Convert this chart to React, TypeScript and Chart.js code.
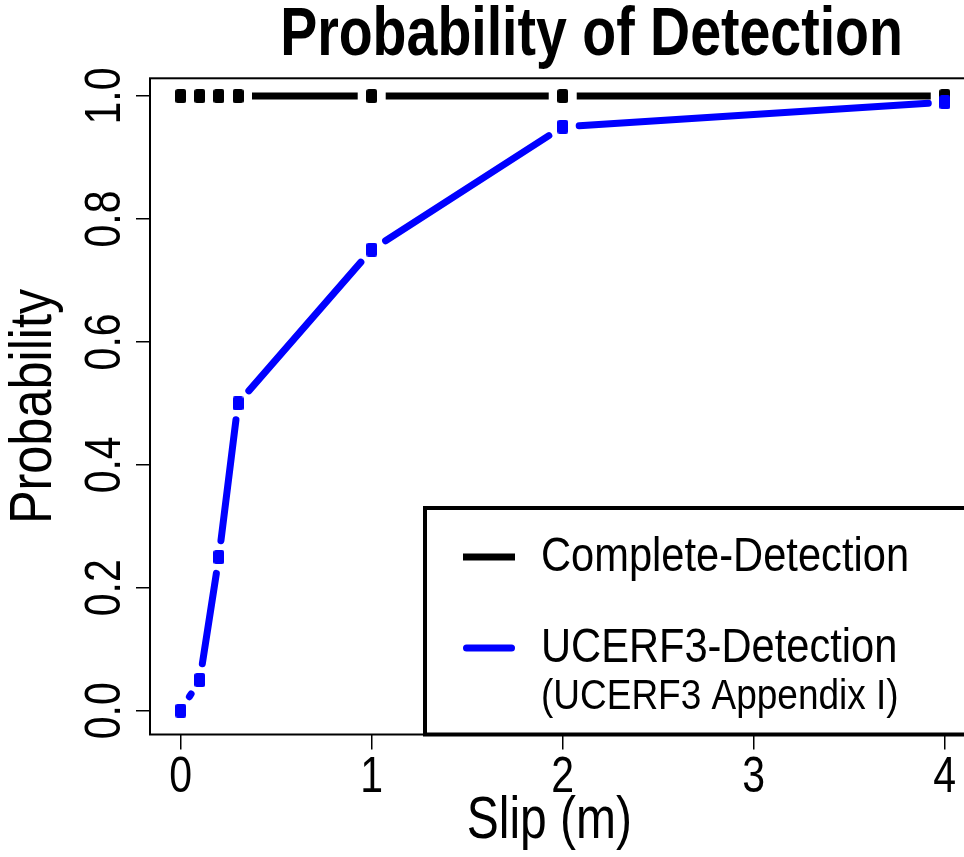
import React, { useEffect, useRef } from "react";
import { Chart, registerables } from "chart.js";

Chart.register(...registerables);

// Slip values (m) shared by both curves
const SLIP = [0, 0.1, 0.2, 0.3, 1, 2, 4];
// Probability of a rupture being detected at each slip
const COMPLETE_DETECTION = [1, 1, 1, 1, 1, 1, 1];
const UCERF3_DETECTION = [0, 0.05, 0.25, 0.5, 0.75, 0.95, 0.99];

const SERIES_NAMES = ["Complete-Detection", "UCERF3-Detection"];
const LEGEND_NOTE = "(UCERF3 Appendix I)";
const TITLE = "Probability of Detection";
const X_LABEL = "Slip (m)";
const Y_LABEL = "Probability";

const X_TICKS = [0, 1, 2, 3, 4];
const Y_TICKS = [0, 0.2, 0.4, 0.6, 0.8, 1.0];

const FONT = "'Liberation Sans', Arial, Helvetica, sans-serif";

// Line styles per series (type "b": segments stop short of the markers)
const LINE_STYLES = [
  { color: "#000000", width: 7, cap: "butt" as CanvasLineCap, gap: 14 },
  { color: "#0000ff", width: 7, cap: "round" as CanvasLineCap, gap: 16.5 },
];

function squareMarker(color: string, w = 11, h = 14, r = 2.5): HTMLCanvasElement {
  const c = document.createElement("canvas");
  c.width = w;
  c.height = h;
  const g = c.getContext("2d")!;
  g.fillStyle = color;
  g.beginPath();
  (g as any).roundRect(0, 0, w, h, r);
  g.fill();
  return c;
}

// Text in a condensed Helvetica look: glyphs narrowed along the reading direction
function drawText(
  ctx: CanvasRenderingContext2D,
  text: string,
  x: number,
  y: number,
  size: number,
  opts: { weight?: string; sx?: number; align?: CanvasTextAlign; vertical?: boolean } = {}
) {
  const { weight = "normal", sx = 0.82, align = "center", vertical = false } = opts;
  ctx.save();
  ctx.translate(x, y);
  if (vertical) ctx.rotate(-Math.PI / 2);
  ctx.scale(sx, 1);
  ctx.font = `${weight} ${size}px ${FONT}`;
  ctx.fillStyle = "#000";
  ctx.textAlign = align;
  ctx.textBaseline = "middle";
  ctx.fillText(text, 0, 0);
  ctx.restore();
}

const gappedLines = {
  id: "gappedLines",
  beforeDatasetDraw(chart: any, args: any) {
    const style = LINE_STYLES[args.index];
    const pts = args.meta.data;
    const ctx = chart.ctx as CanvasRenderingContext2D;
    ctx.save();
    ctx.strokeStyle = style.color;
    ctx.lineWidth = style.width;
    ctx.lineCap = style.cap;
    for (let i = 0; i < pts.length - 1; i++) {
      const a = pts[i];
      const b = pts[i + 1];
      const dx = b.x - a.x;
      const dy = b.y - a.y;
      const len = Math.hypot(dx, dy);
      if (len <= 2 * style.gap) continue;
      const ux = dx / len;
      const uy = dy / len;
      ctx.beginPath();
      ctx.moveTo(a.x + ux * style.gap, a.y + uy * style.gap);
      ctx.lineTo(b.x - ux * style.gap, b.y - uy * style.gap);
      ctx.stroke();
    }
    ctx.restore();
  },
};

const annotations = {
  id: "annotations",
  afterDraw(chart: any) {
    const ctx = chart.ctx as CanvasRenderingContext2D;
    const { left, top, right, bottom } = chart.chartArea;
    const xScale = chart.scales.x;
    const yScale = chart.scales.y;

    ctx.save();
    // plot frame
    ctx.strokeStyle = "#000";
    ctx.lineWidth = 2;
    ctx.strokeRect(left, top, right - left, bottom - top);

    // main title, centred over the plot region
    drawText(ctx, TITLE, (left + right) / 2, 36.7, 68, { weight: "bold", sx: 0.816 });

    // tick labels placed by the scales
    xScale.ticks.forEach((t: any) => {
      drawText(ctx, String(t.value), xScale.getPixelForValue(t.value), bottom + 43.5, 50);
    });
    yScale.ticks.forEach((t: any) => {
      drawText(ctx, Number(t.value).toFixed(1), left - 43.5, yScale.getPixelForValue(t.value), 50, {
        vertical: true,
      });
    });

    // axis labels
    const xLabelX = (left + xScale.getPixelForValue(X_TICKS[X_TICKS.length - 1])) / 2 + 2;
    drawText(ctx, X_LABEL, xLabelX, 821.5, 60, { sx: 0.8 });
    drawText(ctx, Y_LABEL, 34.5, (top + bottom) / 2, 60, { vertical: true, sx: 0.84 });

    // legend box (bottom-right corner of the plot)
    const boxLeft = 425;
    const boxTop = 508;
    ctx.fillStyle = "#fff";
    ctx.fillRect(boxLeft, boxTop, right - boxLeft, bottom - boxTop);
    ctx.lineWidth = 4;
    ctx.strokeStyle = "#000";
    ctx.strokeRect(boxLeft, boxTop, right - boxLeft, bottom - boxTop);

    const rows = [557, 648];
    chart.data.datasets.forEach((ds: any, i: number) => {
      const st = LINE_STYLES[i];
      ctx.strokeStyle = st.color;
      ctx.lineWidth = st.width;
      ctx.lineCap = st.cap;
      const inset = st.cap === "round" ? 3.5 : 0;
      ctx.beginPath();
      ctx.moveTo(463 + inset, rows[i]);
      ctx.lineTo(515 - inset, rows[i]);
      ctx.stroke();
      drawText(ctx, ds.label, 541, rows[i], 49, { align: "left", sx: 0.85 });
    });
    drawText(ctx, LEGEND_NOTE, 541, 697, 43, { align: "left", sx: 0.86 });
    ctx.restore();
  },
};

export default function App() {
  const canvasRef = useRef<HTMLCanvasElement | null>(null);

  useEffect(() => {
    const canvas = canvasRef.current;
    if (!canvas) return;

    const series = [COMPLETE_DETECTION, UCERF3_DETECTION];
    const chart = new Chart(canvas, {
      type: "line",
      data: {
        datasets: series.map((values, i) => ({
          label: SERIES_NAMES[i],
          data: SLIP.map((x, j) => ({ x, y: values[j] })),
          showLine: false,
          pointStyle: squareMarker(LINE_STYLES[i].color),
          pointRadius: 6,
          borderColor: LINE_STYLES[i].color,
          backgroundColor: LINE_STYLES[i].color,
          order: i === 0 ? 1 : 0,
          clip: false as any,
        })),
      },
      options: {
        responsive: false,
        animation: false,
        devicePixelRatio: 1,
        layout: { padding: { left: 0, right: 7, top: 78.3, bottom: 0 } },
        plugins: {
          legend: { display: false },
          tooltip: { enabled: false },
          title: { display: false },
        },
        scales: {
          x: {
            type: "linear",
            min: -0.1607,
            max: 4.462,
            afterBuildTicks: (scale: any) => {
              scale.ticks = X_TICKS.map((value) => ({ value }));
            },
            afterFit: (scale: any) => {
              scale.height = 122.5;
            },
            ticks: { display: false },
            grid: {
              drawOnChartArea: false,
              drawTicks: true,
              tickLength: 15,
              color: "#000",
              lineWidth: 1.5,
            },
            border: { display: false },
          },
          y: {
            type: "linear",
            min: -0.0387,
            max: 1.0288,
            afterBuildTicks: (scale: any) => {
              scale.ticks = Y_TICKS.map((value) => ({ value }));
            },
            afterFit: (scale: any) => {
              scale.width = 150;
            },
            ticks: { display: false },
            grid: {
              drawOnChartArea: false,
              drawTicks: true,
              tickLength: 14,
              color: "#000",
              lineWidth: 1.5,
            },
            border: { display: false },
          },
        },
      },
      plugins: [gappedLines, annotations],
    });
    return () => chart.destroy();
  }, []);

  return (
    <div
      style={{
        position: "fixed",
        left: 0,
        top: 0,
        width: 964,
        height: 857,
        overflow: "hidden",
        background: "#fff",
      }}
    >
      <canvas ref={canvasRef} width={1040} height={857} style={{ display: "block" }} />
    </div>
  );
}
